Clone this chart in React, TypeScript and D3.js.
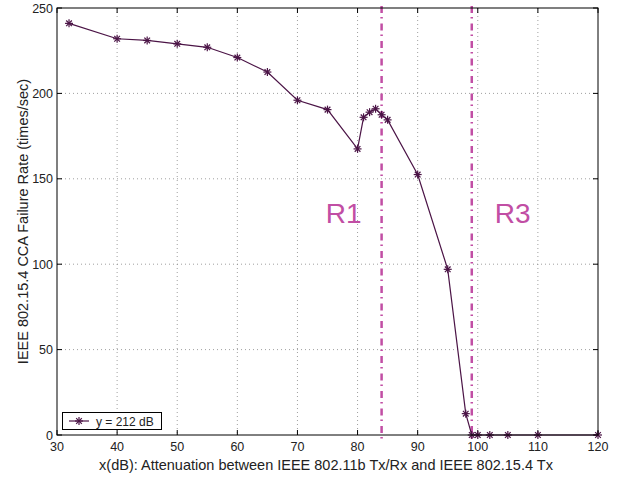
import React from "react";
import * as d3 from "d3";

const xValues = [32, 40, 45, 50, 55, 60, 65, 70, 75, 80, 81, 82, 83, 84, 85, 90, 95, 98, 99, 100, 102, 105, 110, 120];
const yValues = [241, 232, 231, 229, 227, 221, 212.5, 196, 190.5, 167.5, 186, 189, 191, 187.5, 184.5, 152.5, 97, 12.5, 0, 0, 0, 0, 0, 0];
const xTicks = [30, 40, 50, 60, 70, 80, 90, 100, 110, 120];
const yTicks = [0, 50, 100, 150, 200, 250];
const regionLines = [84, 99];
const regionLabels = [
  { text: "R1", x: 77.7 },
  { text: "R3", x: 105.8 },
];
const legendLabel = "y = 212 dB";
const xLabel = "x(dB): Attenuation between IEEE 802.11b Tx/Rx and IEEE 802.15.4 Tx";
const yLabel = "IEEE 802.15.4 CCA Failure Rate (times/sec)";

const W = 625;
const H = 480;
const left = 57;
const right = 598;
const top = 8;
const bottom = 435;

const lineColor = "#4b1446";
const magenta = "#c14ea4";
const font = "'Liberation Sans', Arial, Helvetica, sans-serif";

function Star({ x, y }: { x: number; y: number }) {
  const r = 4;
  const d = r * 0.707;
  return (
    <g stroke={lineColor} strokeWidth={1.2}>
      <line x1={x - r} y1={y} x2={x + r} y2={y} />
      <line x1={x} y1={y - r} x2={x} y2={y + r} />
      <line x1={x - d} y1={y - d} x2={x + d} y2={y + d} />
      <line x1={x - d} y1={y + d} x2={x + d} y2={y - d} />
    </g>
  );
}

export default function App() {
  const x = d3.scaleLinear().domain([30, 120]).range([left, right]);
  const y = d3.scaleLinear().domain([0, 250]).range([bottom, top]);
  const data = xValues.map((v, i) => [v, yValues[i]] as [number, number]);
  const line = d3
    .line<[number, number]>()
    .x((d) => x(d[0]))
    .y((d) => y(d[1]));

  return (
    <svg width={W} height={H} style={{ position: "absolute", left: 0, top: 0, background: "#fff" }}>
      <rect x={0} y={0} width={W} height={H} fill="#fff" />
      {/* grid */}
      {xTicks.slice(1, -1).map((t) => (
        <line key={"gx" + t} x1={x(t)} x2={x(t)} y1={top} y2={bottom} stroke="#888" strokeWidth={0.8} strokeDasharray="1,3" />
      ))}
      {yTicks.slice(1, -1).map((t) => (
        <line key={"gy" + t} x1={left} x2={right} y1={y(t)} y2={y(t)} stroke="#888" strokeWidth={0.8} strokeDasharray="1,3" />
      ))}
      {/* ticks */}
      {xTicks.map((t) => (
        <g key={"tx" + t}>
          <line x1={x(t)} x2={x(t)} y1={bottom} y2={bottom - 5} stroke="#000" />
          <line x1={x(t)} x2={x(t)} y1={top} y2={top + 5} stroke="#000" />
          <text x={x(t)} y={bottom + 16} textAnchor="middle" fontFamily={font} fontSize={12.5} fill="#222">
            {t}
          </text>
        </g>
      ))}
      {yTicks.map((t) => (
        <g key={"ty" + t}>
          <line x1={left} x2={left + 5} y1={y(t)} y2={y(t)} stroke="#000" />
          <line x1={right} x2={right - 5} y1={y(t)} y2={y(t)} stroke="#000" />
          <text x={left - 4} y={y(t) + 4.5} textAnchor="end" fontFamily={font} fontSize={12.5} fill="#222">
            {t}
          </text>
        </g>
      ))}
      {/* region lines */}
      {regionLines.map((v) => (
        <line key={"r" + v} x1={x(v)} x2={x(v)} y1={top - 2} y2={bottom + 4} stroke={magenta} strokeWidth={2.5} strokeDasharray="7,4,1.5,5" />
      ))}
      {regionLabels.map((r) => (
        <text key={r.text} x={x(r.x)} y={223} textAnchor="middle" fontFamily={font} fontSize={28} fill={magenta}>
          {r.text}
        </text>
      ))}
      {/* data line */}
      <path d={line(data) || ""} fill="none" stroke={lineColor} strokeWidth={1.2} />
      {data.map((d, i) => (
        <Star key={i} x={x(d[0])} y={y(d[1])} />
      ))}
      {/* axes box */}
      <rect x={left} y={top} width={right - left} height={bottom - top} fill="none" stroke="#000" strokeWidth={1} />
      {/* legend */}
      <rect x={62.5} y={412.5} width={99} height={17} fill="#fff" stroke="#000" strokeWidth={1} />
      <line x1={69} x2={89} y1={421} y2={421} stroke={lineColor} strokeWidth={1.2} />
      <Star x={79} y={421} />
      <text x={96} y={425.5} fontFamily={font} fontSize={12} fill="#222">
        {legendLabel}
      </text>
      {/* labels */}
      <text x={326} y={470} textAnchor="middle" fontFamily={font} fontSize={14.5} fill="#222">
        {xLabel}
      </text>
      <text
        transform={`translate(28, ${(top + bottom) / 2}) rotate(-90)`}
        textAnchor="middle"
        fontFamily={font}
        fontSize={14.5}
        fill="#222"
      >
        {yLabel}
      </text>
    </svg>
  );
}
